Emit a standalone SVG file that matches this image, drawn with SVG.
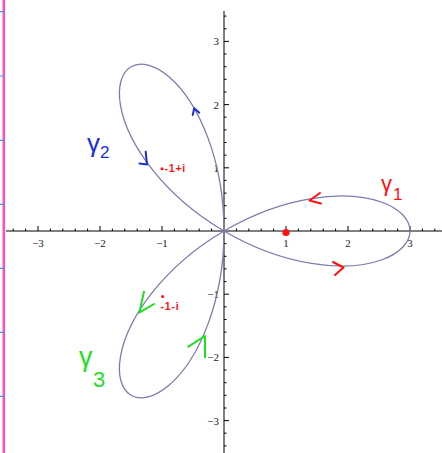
<svg xmlns="http://www.w3.org/2000/svg" width="442" height="453" viewBox="0 0 442 453">
<style>
.bg{fill:#ffffff}
.axis{stroke:#000;stroke-width:1;fill:none}
.tick{stroke:#000;stroke-width:1;fill:none}
.lbl{font-family:"Liberation Serif","Times New Roman",serif;font-size:11px;fill:#222}
.curve{fill:none;stroke:#7c7cab;stroke-width:1.3;vector-effect:non-scaling-stroke}
.hand{fill:none;stroke-width:2;stroke-linecap:round;stroke-linejoin:round}
.red{stroke:#ff1010}
.blue{stroke:#1c2ed8}
.green{stroke:#1de01d}
.hw{font-family:"Liberation Sans",Arial,sans-serif}
.note{font-family:"Liberation Sans",Arial,sans-serif;font-size:10.5px;font-weight:bold;fill:#ff1010;letter-spacing:0.8px}
</style>
<defs>
<path id="petal" class="curve" d="M0,0 C0.45345,-0.26180 0.95359,-0.43994 1.40954,-0.51303 C1.86549,-0.58612 2.27454,-0.55454 2.55861,-0.45115 C2.84268,-0.34776 3,-0.17453 3,0 C3,0.17453 2.84268,0.34776 2.55861,0.45115 C2.27454,0.55454 1.86549,0.58612 1.40954,0.51303 C0.95359,0.43994 0.45345,0.26180 0,0"/>
</defs>
<rect class="bg" x="0" y="0" width="442" height="453"/>
<g id="margin">
<line x1="3.8" y1="0" x2="3.8" y2="453" stroke="#ff4dc2" stroke-width="2.5"/>
<path d="M0,11.7h4M0,76h4M0,140.3h4M0,204.3h4M0,268.3h4M0,332.3h4M0,396.3h4" stroke="#3a9cff" stroke-width="1.2" fill="none"/>
</g>
<g id="axes">
<line class="axis" x1="6" y1="231" x2="442" y2="231"/>
<line class="axis" x1="224" y1="11" x2="224" y2="453"/>
<path class="tick" d="M13.2,231v-2.5M25.6,231v-2.5M38,231v-5M50.4,231v-2.5M62.8,231v-2.5M75.2,231v-2.5M87.6,231v-2.5M100,231v-5M112.4,231v-2.5M124.8,231v-2.5M137.2,231v-2.5M149.6,231v-2.5M162,231v-5M174.4,231v-2.5M186.8,231v-2.5M199.2,231v-2.5M211.6,231v-2.5M236.4,231v-2.5M248.8,231v-2.5M261.2,231v-2.5M273.6,231v-2.5M286,231v-5M298.4,231v-2.5M310.8,231v-2.5M323.2,231v-2.5M335.6,231v-2.5M348,231v-5M360.4,231v-2.5M372.8,231v-2.5M385.2,231v-2.5M397.6,231v-2.5M410,231v-5M422.4,231v-2.5M434.8,231v-2.5"/>
<path class="tick" d="M224,16.1h2.5M224,28.8h2.5M224,41.4h5M224,54h2.5M224,66.7h2.5M224,79.3h2.5M224,92h2.5M224,104.6h5M224,117.2h2.5M224,129.9h2.5M224,142.5h2.5M224,155.2h2.5M224,167.8h5M224,180.4h2.5M224,193.1h2.5M224,205.7h2.5M224,218.4h2.5M224,243.6h2.5M224,256.3h2.5M224,268.9h2.5M224,281.6h2.5M224,294.2h5M224,306.8h2.5M224,319.5h2.5M224,332.1h2.5M224,344.8h2.5M224,357.4h5M224,370h2.5M224,382.7h2.5M224,395.3h2.5M224,408h2.5M224,420.6h5M224,433.2h2.5M224,445.9h2.5"/>
<g class="lbl" text-anchor="middle">
<text x="38" y="247">−3</text>
<text x="100" y="247">−2</text>
<text x="162" y="247">−1</text>
<text x="286" y="247">1</text>
<text x="348" y="247">2</text>
<text x="410" y="247">3</text>
</g>
<g class="lbl" text-anchor="end">
<text x="219" y="45.4">3</text>
<text x="219" y="108.6">2</text>
<text x="219" y="171.8">1</text>
<text x="219" y="298.2">−1</text>
<text x="219" y="361.4">−2</text>
<text x="219" y="424.6">−3</text>
</g>
</g>
<g id="curve">
<use href="#petal" transform="translate(224 231) scale(62 -63.2)"/>
<use href="#petal" transform="translate(224 231) scale(62 -63.2) rotate(120)"/>
<use href="#petal" transform="translate(224 231) scale(62 -63.2) rotate(240)"/>
</g>
<g id="gamma1">
<path class="hand red" d="M320,193 L309.5,200.5 L321,203.5"/>
<path class="hand red" d="M333,262 L343.5,267.5 L335,275"/>
<text class="hw" x="381" y="191" font-size="22" fill="#ff1010">γ</text>
<text class="hw" x="393" y="200" font-size="17" fill="#ff1010">1</text>
</g>
<g id="gamma2">
<path class="hand blue" d="M192.7,115 L194.2,108.3 L199.3,112.7"/>
<path class="hand blue" d="M145.7,151.7 L147,164.5 L139.5,163.5"/>
<text class="hw" x="87" y="152" font-size="26" fill="#1c2ed8">γ</text>
<text class="hw" x="100" y="158" font-size="17" fill="#1c2ed8">2</text>
</g>
<g id="gamma3">
<path class="hand green" d="M144,291.7 L139.3,312.7 L154,304"/>
<path class="hand green" d="M205,357.3 L205,336 L188.3,346.7"/>
<text class="hw" x="79" y="366" font-size="27" fill="#1de01d">γ</text>
<text class="hw" x="93" y="387" font-size="22" fill="#1de01d">3</text>
</g>
<g id="points">
<circle cx="286" cy="232.5" r="3.6" fill="#ff1010"/>
<circle cx="162" cy="168.8" r="1.5" fill="#ff1010"/>
<text class="note" x="164.5" y="171.5">-1+i</text>
<circle cx="162.6" cy="296.5" r="1.5" fill="#ff1010"/>
<text class="note" x="160.5" y="309.5">-1-i</text>
</g>
</svg>
